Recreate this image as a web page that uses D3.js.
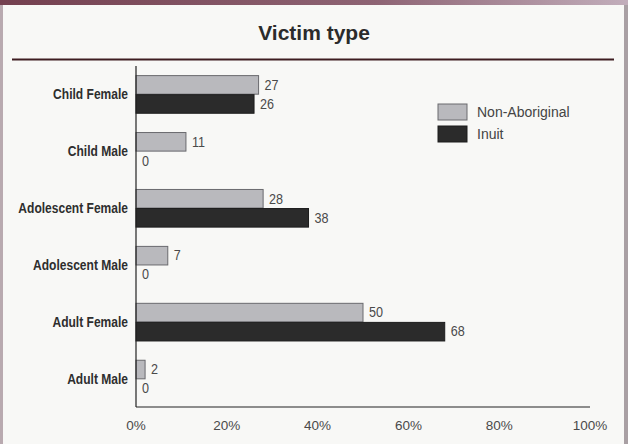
<!DOCTYPE html>
<html>
<head>
<meta charset="utf-8">
<script src="https://cdn.jsdelivr.net/npm/d3@7"></script>
<style>
  body { margin: 0; background: #fff; }
  svg { display: block; }
</style>
</head>
<body>
<svg id="chart" width="628" height="444"></svg>
<script>
// data
const categories = ['Child Female', 'Child Male', 'Adolescent Female', 'Adolescent Male', 'Adult Female', 'Adult Male']
const seriesNames = ['Non-Aboriginal', 'Inuit']
const nonAboriginal = [27, 11, 28, 7, 50, 2]
const inuit = [26, 0, 38, 0, 68, 0]
const xTicks = [0, 20, 40, 60, 80, 100]

const svg = d3.select('#chart')
const W = 628, H = 444

// frame
const grad = svg.append('defs').append('linearGradient').attr('id', 'topband')
grad.append('stop').attr('offset', '0%').attr('stop-color', '#74404f')
grad.append('stop').attr('offset', '60%').attr('stop-color', '#8e6474')
grad.append('stop').attr('offset', '100%').attr('stop-color', '#c2aebb')

svg.append('rect').attr('width', W).attr('height', H).attr('fill', '#f8f8f6')
svg.append('rect').attr('x', 0).attr('y', 0).attr('width', W).attr('height', 5).attr('fill', 'url(#topband)')
svg.append('rect').attr('x', 0).attr('y', 5).attr('width', 3).attr('height', H - 5).attr('fill', '#b9aab0')
svg.append('rect').attr('x', 624).attr('y', 5).attr('width', 4).attr('height', H - 5).attr('fill', '#a9a0a4')

// title
svg.append('text')
  .attr('x', 314).attr('y', 40)
  .attr('text-anchor', 'middle')
  .attr('font-family', 'Liberation Sans, Arial, sans-serif')
  .attr('font-weight', 'bold')
  .attr('font-size', 21)
  .attr('fill', '#2b2b2b')
  .text('Victim type')
svg.append('line')
  .attr('x1', 12).attr('x2', 614).attr('y1', 59.5).attr('y2', 59.5)
  .attr('stroke', '#3e1d21').attr('stroke-width', 2)

// scales
const x = d3.scaleLinear().domain([0, 100]).range([136, 590])
const y = d3.scaleBand().domain(categories).range([66, 407]).paddingInner(0.33).paddingOuter(0.16)
const ySub = d3.scaleBand().domain(seriesNames).range([0, y.bandwidth()])
const fills = { 'Non-Aboriginal': '#b9b9bd', 'Inuit': '#2b2b2b' }
const strokes = { 'Non-Aboriginal': '#6a6a6e', 'Inuit': '#1c1c1c' }

const rows = categories.map((c, i) => ({
  cat: c,
  vals: [
    { s: 'Non-Aboriginal', v: nonAboriginal[i] },
    { s: 'Inuit', v: inuit[i] }
  ]
}))

const groups = svg.append('g').selectAll('g').data(rows).enter().append('g')
  .attr('transform', d => `translate(0, ${y(d.cat)})`)

groups.selectAll('rect').data(d => d.vals.filter(e => e.v > 0)).enter().append('rect')
  .attr('x', x(0))
  .attr('y', d => ySub(d.s) + 0.5)
  .attr('width', d => x(d.v) - x(0))
  .attr('height', ySub.bandwidth() - 0.5)
  .attr('fill', d => fills[d.s])
  .attr('stroke', d => strokes[d.s])
  .attr('stroke-width', 1)

groups.selectAll('text.val').data(d => d.vals).enter().append('text')
  .attr('class', 'val')
  .attr('transform', d => `translate(${x(d.v) + 6}, ${ySub(d.s) + ySub.bandwidth() / 2 + 5}) scale(0.9, 1)`)
  .attr('font-family', 'Liberation Sans, Arial, sans-serif')
  .attr('font-size', 14)
  .attr('fill', '#4a4a4a')
  .text(d => d.v)

// category labels (condensed look)
svg.append('g').selectAll('text').data(categories).enter().append('text')
  .attr('transform', d => `translate(128, ${y(d) + y.bandwidth() / 2 + 5}) scale(0.86, 1)`)
  .attr('text-anchor', 'end')
  .attr('font-family', 'Liberation Sans, Arial, sans-serif')
  .attr('font-weight', 'bold')
  .attr('font-size', 14)
  .attr('fill', '#2e2e2e')
  .text(d => d)

// axes
svg.append('line')
  .attr('x1', x(0)).attr('x2', x(0)).attr('y1', 66).attr('y2', 407)
  .attr('stroke', '#222').attr('stroke-width', 1.2)
svg.append('line')
  .attr('x1', x(0)).attr('x2', x(100)).attr('y1', 407).attr('y2', 407)
  .attr('stroke', '#222').attr('stroke-width', 1.2)

svg.append('g').selectAll('text').data(xTicks).enter().append('text')
  .attr('x', d => x(d))
  .attr('y', 430)
  .attr('text-anchor', 'middle')
  .attr('font-family', 'Liberation Sans, Arial, sans-serif')
  .attr('font-size', 13.5)
  .attr('fill', '#4a4a4a')
  .text(d => d + '%')

// legend
const legend = svg.append('g').selectAll('g').data(seriesNames).enter().append('g')
  .attr('transform', (d, i) => `translate(438, ${104 + i * 22})`)
legend.append('rect')
  .attr('width', 29).attr('height', 16)
  .attr('fill', d => fills[d])
  .attr('stroke', d => strokes[d])
legend.append('text')
  .attr('x', 39).attr('y', 13)
  .attr('font-family', 'Liberation Sans, Arial, sans-serif')
  .attr('font-size', 14)
  .attr('fill', '#444')
  .text(d => d)
</script>
</body>
</html>
